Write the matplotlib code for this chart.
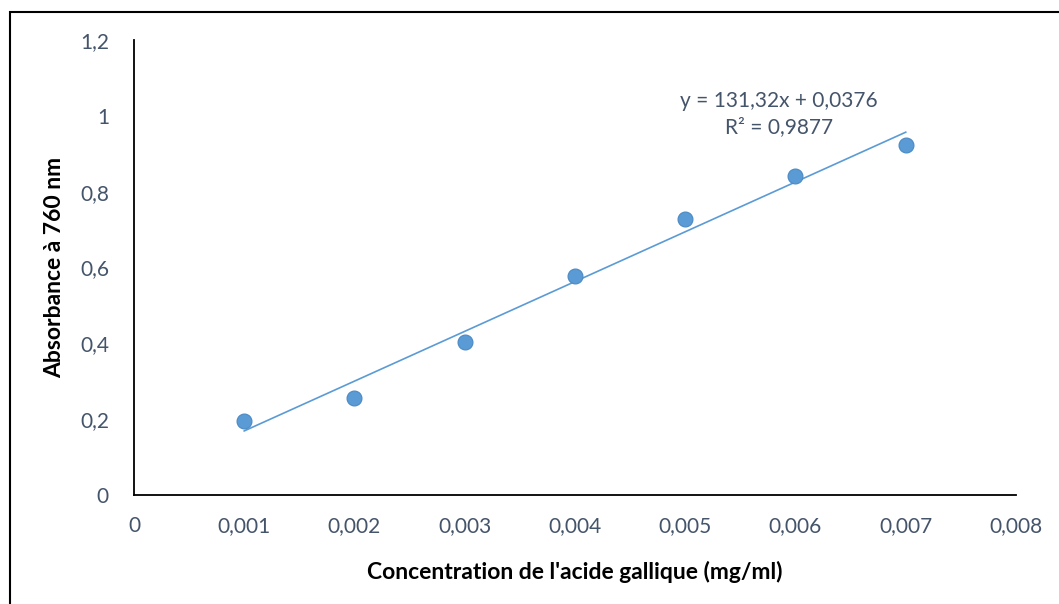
import numpy as np
import matplotlib.pyplot as plt
from matplotlib.patches import Rectangle

# data
concentration = [0.001, 0.002, 0.003, 0.004, 0.005, 0.006, 0.007]
absorbance = [0.195, 0.256, 0.404, 0.578, 0.728, 0.842, 0.923]
slope = 131.32
intercept = 0.0376
equation_label = "y = 131,32x + 0,0376\nR² = 0,9877"
x_ticks = [0, 0.001, 0.002, 0.003, 0.004, 0.005, 0.006, 0.007, 0.008]
y_ticks = [0, 0.2, 0.4, 0.6, 0.8, 1.0, 1.2]

plt.rcParams['font.family'] = ['Lato', 'DejaVu Sans']

fig = plt.figure(figsize=(10.59, 6.04), dpi=100)
ax = fig.add_axes([0.1265, 0.1805, 0.8329, 0.7533])

# outer frame of the chart area (cut off on the right and bottom)
fig.patches.append(Rectangle((10 / 1059, -0.05), 1.1, 0.05 + (604 - 12) / 604,
                             transform=fig.transFigure, fill=False,
                             edgecolor='black', linewidth=1.5))

blue = '#5B9BD5'
ax.scatter(concentration, absorbance, s=115, color=blue, edgecolor='#4A89C4',
           linewidth=0.8, zorder=3)

# linear trendline over the data range
x_fit = np.array([concentration[0], concentration[-1]])
ax.plot(x_fit, slope * x_fit + intercept, color=blue, linewidth=1.2, zorder=2)

ax.text(0.00585, 1.005, equation_label, ha='center', va='center',
        fontsize=15, color='#44546A', linespacing=1.35)

ax.set_xlim(0, 0.008)
ax.set_ylim(0, 1.2)
ax.set_xticks(x_ticks)
ax.set_yticks(y_ticks)
ax.set_xticklabels([('%g' % v).replace('.', ',') if v else '0' for v in x_ticks])
ax.set_yticklabels([('%g' % v).replace('.', ',') for v in y_ticks])
ax.tick_params(length=0, labelsize=15, labelcolor='#44546A')
ax.tick_params(axis='x', pad=15)
ax.tick_params(axis='y', pad=18)

for side in ['top', 'right']:
    ax.spines[side].set_visible(False)
for side in ['left', 'bottom']:
    ax.spines[side].set_linewidth(1.3)
    ax.spines[side].set_color('black')

ax.set_xlabel("Concentration de l'acide gallique (mg/ml)", fontsize=16.5,
              fontweight='bold', labelpad=18)
ax.set_ylabel("Absorbance à 760 nm", fontsize=16.5, fontweight='bold', labelpad=11)

fig.savefig('out.png', dpi=100)
